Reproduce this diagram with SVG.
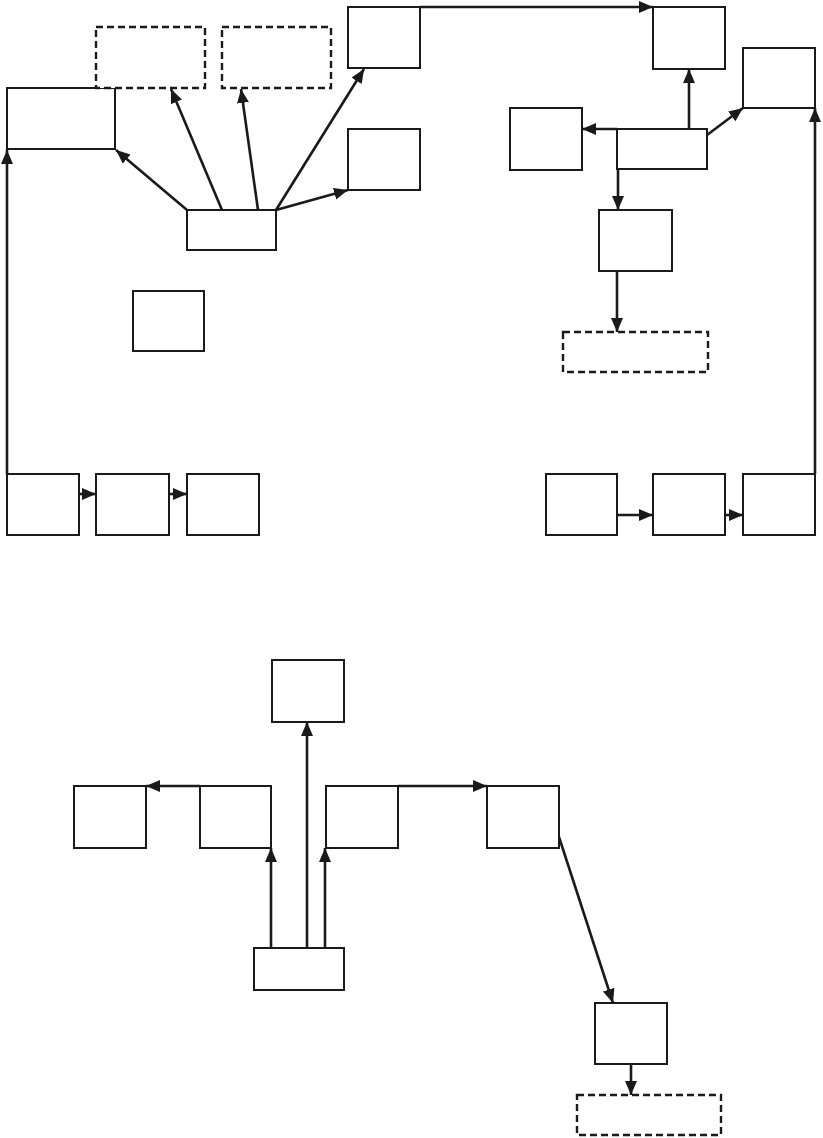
<svg xmlns="http://www.w3.org/2000/svg" width="823" height="1138" viewBox="0 0 823 1138">
<style>
.n{fill:#fff;stroke:#1a1a1a;stroke-width:2}
.d{fill:#fff;stroke:#1a1a1a;stroke-width:2.4;stroke-dasharray:7 4}
.c{fill:none;stroke:#1a1a1a;stroke-width:2.6;marker-end:url(#ah)}
</style>
<defs>
<marker id="ah" markerUnits="userSpaceOnUse" markerWidth="16" markerHeight="14" refX="14" refY="6" orient="auto">
<path d="M0,0 L14,6 L0,12 z" fill="#1a1a1a"/>
</marker>
</defs>
<rect width="823" height="1138" fill="#fff"/>
<g id="nodes">
<g id="a"><rect class="n" x="7" y="88" width="108" height="61"/></g>
<g id="d1"><rect class="d" x="96" y="27" width="109" height="61"/></g>
<g id="d2"><rect class="d" x="222" y="27" width="109" height="61"/></g>
<g id="c"><rect class="n" x="348" y="7" width="72" height="61"/></g>
<g id="dd"><rect class="n" x="348" y="129" width="72" height="61"/></g>
<g id="hub1"><rect class="n" x="187" y="210" width="89" height="40"/></g>
<g id="i"><rect class="n" x="133" y="291" width="71" height="60"/></g>
<g id="e"><rect class="n" x="653" y="7" width="72" height="62"/></g>
<g id="f"><rect class="n" x="743" y="48" width="72" height="60"/></g>
<g id="g"><rect class="n" x="510" y="108" width="72" height="62"/></g>
<g id="hub2"><rect class="n" x="617" y="129" width="90" height="40"/></g>
<g id="h"><rect class="n" x="599" y="210" width="73" height="61"/></g>
<g id="d3"><rect class="d" x="563" y="332" width="145" height="40"/></g>
<g id="j1"><rect class="n" x="7" y="474" width="72" height="61"/></g>
<g id="j2"><rect class="n" x="96" y="474" width="73" height="61"/></g>
<g id="j3"><rect class="n" x="187" y="474" width="72" height="61"/></g>
<g id="k1"><rect class="n" x="546" y="474" width="71" height="61"/></g>
<g id="k2"><rect class="n" x="653" y="474" width="72" height="61"/></g>
<g id="k3"><rect class="n" x="743" y="474" width="72" height="61"/></g>
<g id="l"><rect class="n" x="272" y="660" width="72" height="62"/></g>
<g id="m1"><rect class="n" x="74" y="786" width="72" height="62"/></g>
<g id="m2"><rect class="n" x="200" y="786" width="71" height="62"/></g>
<g id="m3"><rect class="n" x="326" y="786" width="72" height="62"/></g>
<g id="m4"><rect class="n" x="487" y="786" width="72" height="62"/></g>
<g id="hub3"><rect class="n" x="254" y="948" width="90" height="42"/></g>
<g id="nn"><rect class="n" x="595" y="1003" width="72" height="61"/></g>
<g id="d4"><rect class="d" x="577" y="1095" width="144" height="40"/></g>
</g>
<g id="connectors">
<path class="c" d="M187,210 L116,150"/>
<path class="c" d="M222,210 L171,89"/>
<path class="c" d="M258,210 L241,89"/>
<path class="c" d="M276,210 L364,69"/>
<path class="c" d="M276,210 L348,190"/>
<path class="c" d="M420,7 L653,7"/>
<path class="c" d="M689,129 L689,69"/>
<path class="c" d="M617,129 L582,129"/>
<path class="c" d="M707,135 L743,108"/>
<path class="c" d="M618,169 L618,210"/>
<path class="c" d="M617,271 L617,332"/>
<path class="c" d="M7,474 L7,150"/>
<path class="c" d="M79,494 L96,494"/>
<path class="c" d="M169,494 L187,494"/>
<path class="c" d="M617,515 L653,515"/>
<path class="c" d="M725,515 L743,515"/>
<path class="c" d="M815,474 L815,108"/>
<path class="c" d="M271,948 L271,848"/>
<path class="c" d="M307,948 L307,722"/>
<path class="c" d="M325,948 L325,848"/>
<path class="c" d="M200,786 L146,786"/>
<path class="c" d="M398,786 L487,786"/>
<path class="c" d="M559,837 L613,1003"/>
<path class="c" d="M631,1064 L631,1095"/>
</g>
</svg>
